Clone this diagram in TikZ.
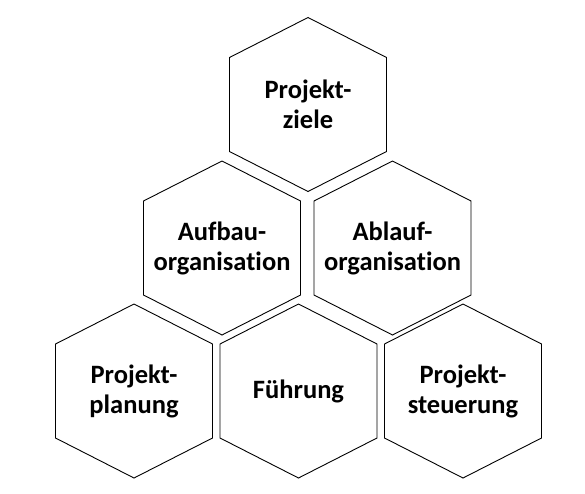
\documentclass[tikz,border=0pt]{standalone}
\usepackage{fontspec}
\setmainfont[Ligatures=NoCommon]{Carlito}

\begin{document}
\begin{tikzpicture}[x=1pt, y=-1pt,
    hexa/.style={draw, line width=0.9pt, line join=miter},
    hextext/.style={font=\fontsize{26.5}{30}\selectfont\bfseries, align=center}]
    \useasboundingbox (0,0) rectangle (585,493);

    \foreach \n/\cx/\cy/\txt in {ziele/308/104.5/{Projekt-\\ziele},
        aufbau/222/248/{Aufbau-\\organisation},
        ablauf/392.5/248/{Ablauf-\\organisation},
        planung/134/391/{Projekt-\\planung},
        fuehrung/298.5/391/{F\"uhrung},
        steuerung/463/391/{Projekt-\\steuerung}}
    {
        \draw[hexa] (\cx-78.5,\cy-47) -- (\cx,\cy-87) -- (\cx+78.5,\cy-47)
            -- (\cx+78.5,\cy+47) -- (\cx,\cy+87) -- (\cx-78.5,\cy+47) -- cycle;
        \node[hextext] (\n) at (\cx,\cy) {\txt};
    }
\end{tikzpicture}
\end{document}
